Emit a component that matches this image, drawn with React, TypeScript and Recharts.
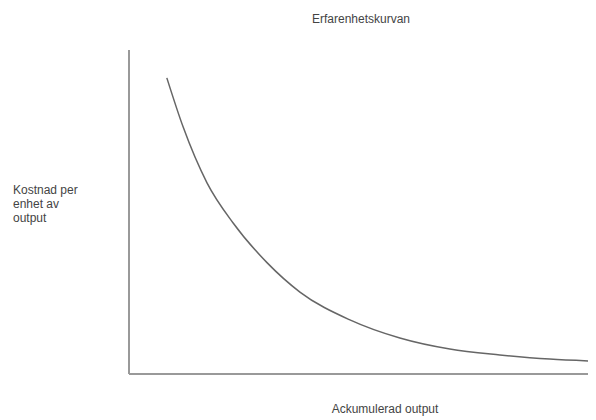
import React from 'react';
import { LineChart, Line, XAxis, YAxis } from 'recharts';

// accumulated output (x) vs cost per unit (y), 0..100 scale
const outputVolume = [8.1, 11.6, 16.7, 22.3, 29.6, 36.6, 47.3, 58.0, 68.7, 79.4, 90.1, 98.7];
const unitCost = [91.4, 76.2, 59.0, 46.6, 34.3, 25.3, 16.7, 11.1, 7.7, 5.9, 4.6, 4.0];

const chartData = outputVolume.map((x, i) => ({ x, cost: unitCost[i] }));

const textStyle: React.CSSProperties = {
  position: 'absolute',
  fontFamily: 'Arial, "Liberation Sans", sans-serif',
  fontSize: 12,
  color: '#444',
  whiteSpace: 'nowrap',
};

const App: React.FC = () => {
  return (
    <div style={{ position: 'relative', width: 588, height: 412 }}>
      <LineChart
        width={588}
        height={404}
        data={chartData}
        margin={{ top: 42, right: 0, left: 120, bottom: 37 }}
      >
        <XAxis
          type="number"
          dataKey="x"
          domain={[0, 100]}
          tick={false}
          tickLine={false}
          height={1}
          axisLine={{ stroke: '#999', strokeWidth: 2 }}
        />
        <YAxis
          type="number"
          domain={[0, 100]}
          tick={false}
          tickLine={false}
          width={1}
          axisLine={{ stroke: '#999', strokeWidth: 2 }}
        />
        <Line
          type="monotone"
          dataKey="cost"
          stroke="#666"
          strokeWidth={1.5}
          dot={false}
          isAnimationActive={false}
        />
      </LineChart>
      <div style={{ ...textStyle, left: 353, top: 4, transform: 'translateX(-50%)' }}>
        Erfarenhetskurvan
      </div>
      <div style={{ ...textStyle, left: 5, top: 175, lineHeight: '14px', whiteSpace: 'normal' }}>
        Kostnad per
        <br />
        enhet av
        <br />
        output
      </div>
      <div style={{ ...textStyle, left: 377, top: 394, transform: 'translateX(-50%)' }}>
        Ackumulerad output
      </div>
    </div>
  );
};

export default App;
